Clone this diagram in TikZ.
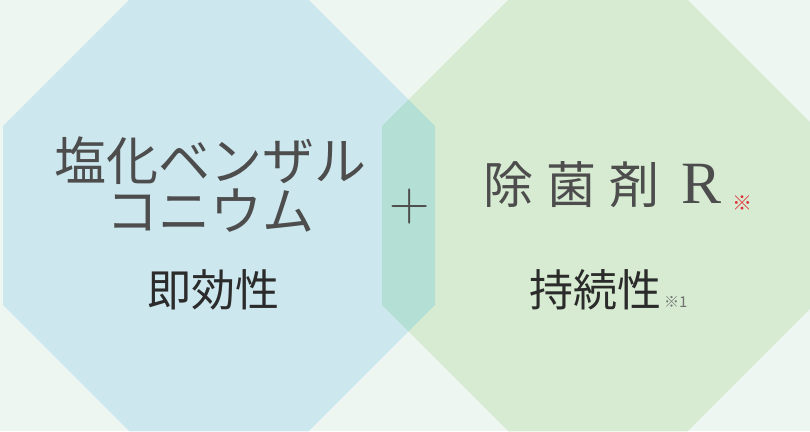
\documentclass[tikz,border=0pt]{standalone}
\usepackage{fontspec}
\usetikzlibrary{calc}
\newfontfamily\jpfont{Noto Sans CJK JP}
\newfontfamily\serifR{Liberation Serif}
\definecolor{bgmint}{HTML}{EEF6F2}
\definecolor{octblue}{HTML}{CCE7EE}
\definecolor{octgreen}{HTML}{D6EBD1}
\definecolor{octmix}{HTML}{B4DFD4}
\definecolor{inkgray}{HTML}{4D4D4D}
\definecolor{inkdark}{HTML}{2B2B2B}
\definecolor{markred}{HTML}{E0323C}
\newcommand{\octa}[1]{%
 ($(#1)+(22.5:233.8)$) -- ($(#1)+(67.5:233.8)$) -- ($(#1)+(112.5:233.8)$) -- ($(#1)+(157.5:233.8)$) --%
 ($(#1)+(202.5:233.8)$) -- ($(#1)+(247.5:233.8)$) -- ($(#1)+(292.5:233.8)$) -- ($(#1)+(337.5:233.8)$) -- cycle%
}
\begin{document}
\begin{tikzpicture}[x=1pt,y=1pt,
  headline/.style={font=\jpfont\fontsize{52}{52}\selectfont, text=inkgray, inner sep=0},
  effect/.style={font=\jpfont\fontsize{44}{44}\selectfont, text=inkdark, inner sep=0},
  note/.style={font=\jpfont\fontsize{15}{15}\selectfont, text=inkgray!80, inner sep=0}]
 \useasboundingbox (0,0) rectangle (810,431);
 \clip (0,0) rectangle (810,431);
 \fill[bgmint] (0,0) rectangle (810,431);
 \coordinate (lc) at (219,215.5);
 \coordinate (rc) at (598,215.5);
 \fill[octblue] \octa{lc};
 \fill[octgreen] \octa{rc};
 \begin{scope}
  \clip \octa{lc};
  \fill[octmix] \octa{rc};
 \end{scope}
 % left side
 \node[headline] (name1) at (210,270) {塩化ベンザル};
 \node[headline] (name2) at (210,220) {コニウム};
 \node[effect] (fast) at (213,141) {即効性};
 % plus
 \node[inner sep=0, text=inkgray, font=\fontsize{56}{56}\selectfont] (plus) at (410,224) {+};
 % right side
 \node[headline, font=\jpfont\fontsize{50}{50}\selectfont] (agent) at (603,246)
  {除\hspace{13pt}菌\hspace{13pt}剤\hspace{22pt}{\serifR\fontsize{60}{60}\selectfont R}};
 \node[inner sep=0, text=markred, font=\jpfont\fontsize{20}{20}\selectfont] (mark) at (742,228) {※};
 \node[effect] (lasting) at (595,141) {持続性};
 \node[note, anchor=base west] (note1) at (664,124) {※1};
\end{tikzpicture}
\end{document}
